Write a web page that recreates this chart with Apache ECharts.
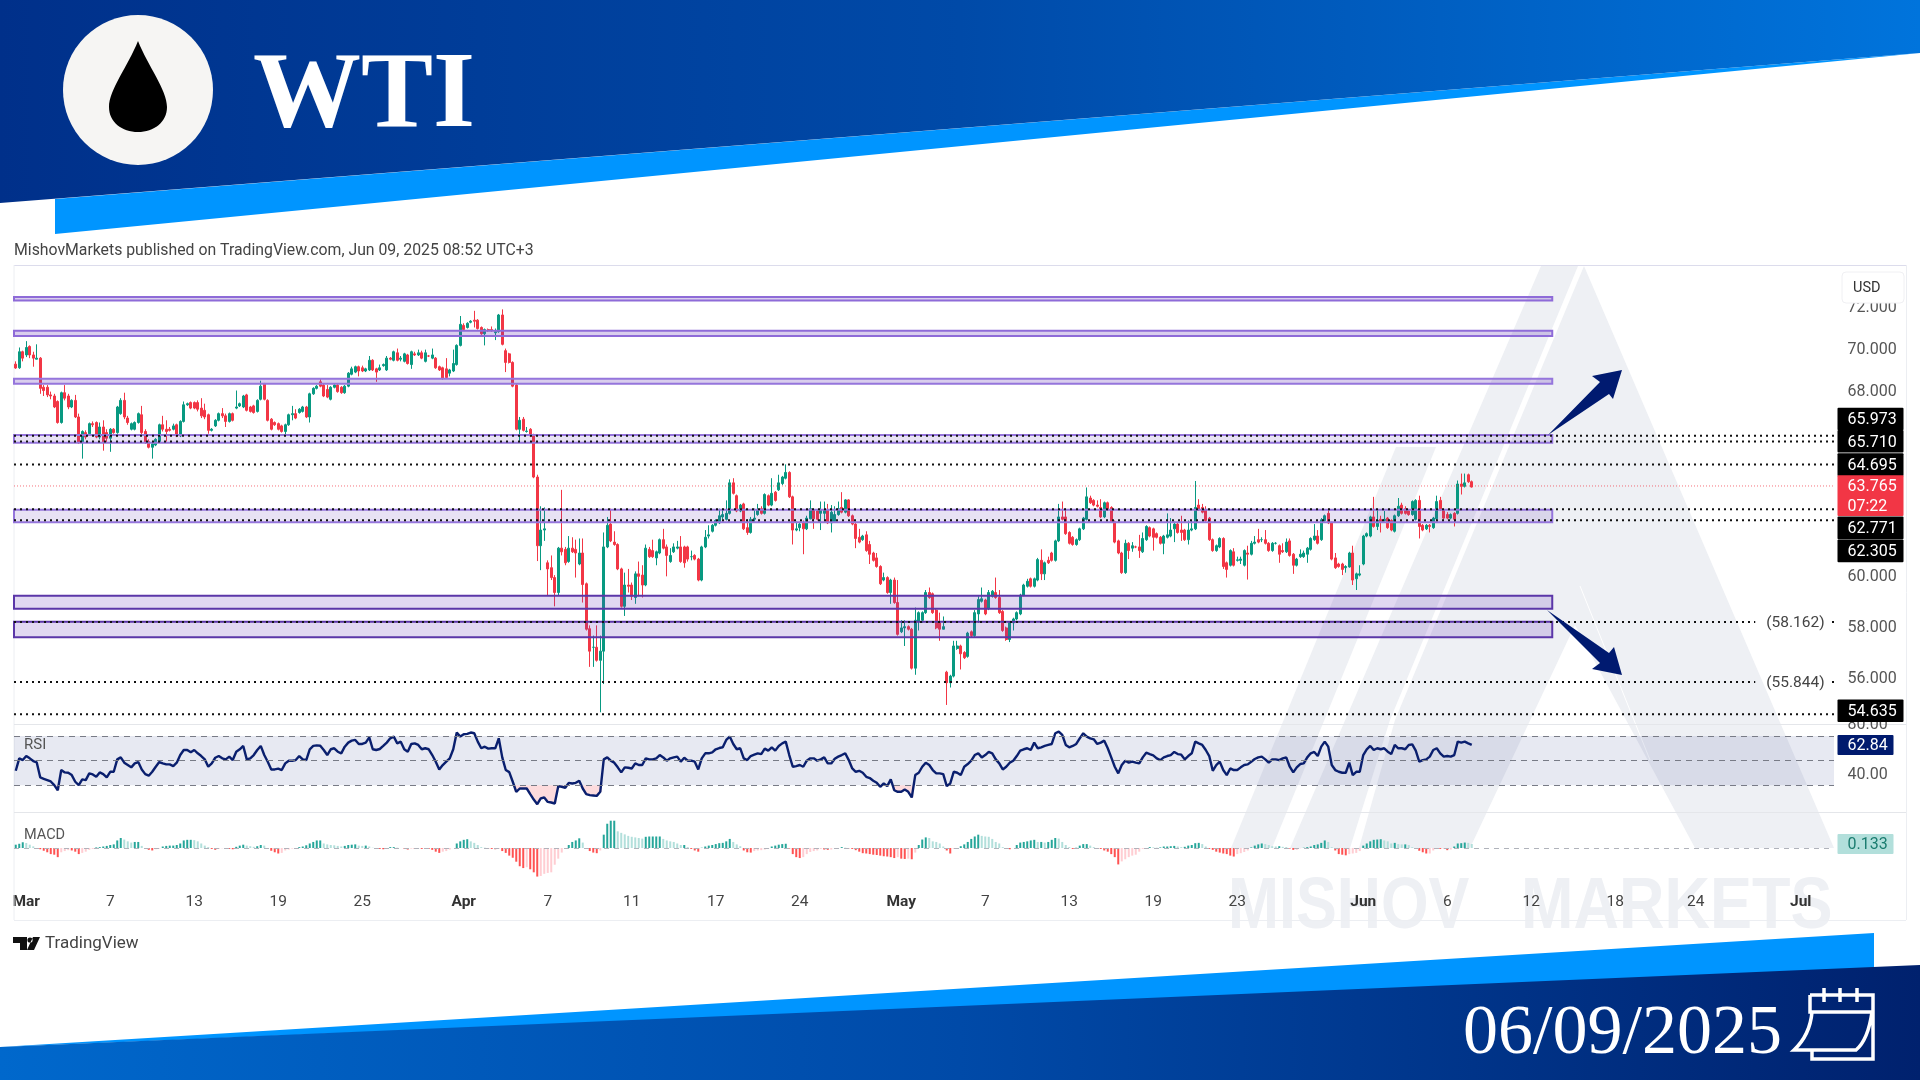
<!DOCTYPE html>
<html>
<head>
<meta charset="utf-8">
<title>WTI</title>
<script src="https://cdn.jsdelivr.net/npm/echarts@6/dist/echarts.min.js"></script>
<style>
  html, body { margin: 0; padding: 0; background: #fff; }
  #chart { width: 1920px; height: 1080px; }
</style>
</head>
<body>
<div id="chart"></div>
<script>
// [open, close, low, high]
const priceBars = [
[69.27,69.09,69.05,69.4],[69.1,69.85,69.05,70.05],[69.85,69.55,69.4,69.9],[69.7,70.05,69.6,70.35],[70.1,69.7,69.55,70.15],[69.7,69.55,69.15,69.85],[69.5,69.55,69.5,70.2],[69.55,68.15,67.9,69.6],
[68.2,68.05,67.8,68.3],[68.2,67.85,67.75,68.3],[67.85,67.8,67.65,68],[67.8,67.3,67.25,67.9],[67.55,66.6,66.55,67.6],[66.6,67.95,66.55,68],[67.95,67.7,67.6,68.3],[67.8,67.3,67.2,67.9],
[67.3,67.6,67.25,67.65],[67.6,66.85,66.8,67.85],[66.85,65.7,65.65,67],[65.7,66.2,65,66.25],[66.15,65.95,65.85,66.25],[66.1,66.55,66,66.6],[66.55,66.5,66.4,66.65],[66.6,65.95,65.9,66.65],
[65.95,66.4,65.85,66.6],[66.4,65.7,65.35,66.7],[66.15,65.9,65.7,66.3],[65.9,66.3,65.3,66.35],[66.3,66.15,66.1,66.35],[66.15,67.3,66.1,67.35],[67,67.6,66.95,67.7],[67.6,66.85,66.75,67.95],
[66.8,66.6,66.5,66.9],[66.3,66.55,66.25,66.6],[66.3,66.6,66.25,66.65],[66.6,67,66.55,67.05],[66.95,66.15,66.05,67.35],[66.2,65.7,65.65,66.3],[65.75,65.5,65.45,65.85],[65.5,65.65,65,65.75],
[65.6,65.85,65.55,65.9],[65.75,66.5,65.7,66.55],[66.5,66.3,66.2,66.9],[66.3,66.2,65.75,66.7],[66.3,66.25,66.2,66.4],[66.3,66.45,66.25,66.55],[66.5,66,65.95,66.55],[66,66.65,65.95,66.7],
[66.65,67.4,66.6,67.55],[67.4,67.45,67.35,67.5],[67.5,67.25,67.2,67.55],[67.5,67.25,67.2,67.55],[67.5,67.2,67.1,67.6],[67.25,66.9,66.8,67.7],[67.15,66.85,66.75,67.45],[66.95,66.25,66.1,67],
[66.25,66.3,66.2,66.35],[66.45,66.7,66.4,66.75],[66.7,67,66.65,67.05],[67,66.9,66.8,67.25],[66.9,66.65,66.4,67],[66.65,67,66.6,67.05],[67,66.7,66.65,67.05],[67.25,67.3,67.2,68.05],
[67.35,67.45,67.3,67.5],[67.3,67.8,67.25,67.85],[67.85,67.15,67.1,67.9],[67.3,67.1,67.05,67.35],[67.35,67.05,67,67.4],[67.1,67.6,67.05,67.65],[67.65,68.25,67.6,68.5],[68.35,67.65,67.6,68.4],
[67.6,66.7,66.65,67.65],[66.75,66.3,66.25,66.8],[66.6,66.5,66.45,66.65],[66.55,66.3,66.25,66.6],[66.45,66.2,66.15,66.5],[66.2,66.5,66,66.55],[66.5,66.95,66.45,67],[66.95,67,66.7,67.35],
[67,66.8,66.75,67.2],[67.05,67.2,67,67.25],[67.1,67.3,67.05,67.35],[67.3,66.85,66.8,67.35],[66.85,67.9,66.6,67.95],[67.9,68.15,67.85,68.2],[68.15,68.25,68.1,68.3],[68.45,68.25,68.2,68.6],
[68.3,67.8,67.75,68.35],[68.1,67.75,67.7,68.3],[67.65,68.2,67.6,68.25],[68.2,68.3,68.15,68.35],[68.3,68,67.95,68.35],[68.2,67.95,67.9,68.25],[67.95,68.25,67.9,68.3],[68.25,68.85,68.2,68.9],
[68.8,69.05,68.75,69.15],[68.9,69.15,68.85,69.2],[69.15,68.95,68.7,69.2],[69.1,68.95,68.9,69.2],[68.95,69.05,68.9,69.1],[69,69.45,68.95,69.65],[69.45,69,68.95,69.5],[69.05,68.9,68.45,69.1],
[69,69.1,68.95,69.25],[69.2,69.25,69.15,69.3],[69,69.55,68.95,69.65],[69.55,69.5,69.45,69.6],[69.45,69.85,69.4,69.9],[69.8,69.45,69.4,70],[69.5,69.55,69.4,69.65],[69.4,69.75,69.35,69.8],
[69.7,69.3,69.25,69.75],[69.25,69.85,69.05,69.9],[69.75,69.7,69.65,69.85],[69.7,69.8,69.65,69.95],[69.8,69.55,69.5,69.9],[69.4,69.8,69.35,69.95],[69.65,69.65,69.6,69.7],[69.55,69.7,69.5,70],
[69.55,69.1,69.05,69.6],[69.15,69,68.95,69.2],[69.1,68.6,68.55,69.15],[69.05,68.65,68.6,69.55],[68.85,69,68.7,69.05],[68.95,69.3,68.9,69.95],[69.25,70.15,69.2,70.2],[70.15,71.15,70.1,71.55],
[71.1,70.9,70.85,71.2],[71,71.2,70.95,71.25],[71.25,71.3,71.2,71.35],[71.35,71.3,71,71.8],[71.35,70.95,70.9,71.4],[71,70.7,70.65,71.05],[70.7,70.9,70.15,70.95],[70.9,70.85,70.8,70.95],
[70.9,70.85,70.8,71.05],[70.75,70.8,70.4,70.95],[70.8,71.6,70.75,71.65],[71.6,70.2,70.15,71.87],[69.9,69.35,68.9,70],[69.75,69.35,69.3,69.8],[69.35,68.25,68.2,69.4],[68.3,66.3,66.25,68.35],
[66.3,66.7,65.75,66.85],[66.75,66.25,66.2,66.85],[66.2,66.22,66.15,66.4],[66.3,66,65.95,66.35],[66.05,64.2,64.15,66.1],[64.2,61.3,60.67,64.3],[61.3,61.95,60.3,62.95],[61.95,62,61.5,62.9],
[60.6,60.35,59.3,60.7],[60.4,60,59.9,60.9],[60,59.4,58.85,60.1],[59.4,61.2,59.3,61.25],[61.2,61.05,60.9,63.65],[61.15,60.6,60.5,61.25],[60.65,61.2,60.6,61.7],[61.2,61.05,61,61.65],
[61.15,61,60,61.55],[60.55,61,60.5,61.6],[61,59.72,59,61.6],[59.75,57.95,57.9,59.8],[57.97,57.1,56.5,58.1],[57.25,57.25,56.5,57.7],[57.25,56.75,56.7,58.1],[56.75,57.1,54.8,57.7],
[57.1,61.25,55.85,61.85],[61.25,62.15,61.2,62.5],[62.2,61.5,61.45,62.85],[61.45,61.35,61.3,61.9],[61.35,60.35,60.3,61.4],[60.35,58.85,58.8,60.4],[58.85,59.7,58.47,60.2],[59.7,59.65,59.4,60.35],
[59.7,59.25,59.1,59.8],[59.2,60.15,58.95,60.25],[60.15,60.05,59.25,60.65],[60.1,59.7,59.2,60.5],[59.7,61.2,59.65,61.35],[61.15,60.85,60.8,61.25],[61.1,60.85,60.8,61.55],[60.8,61.05,60.5,61.1],
[61,61.55,60.95,61.6],[61.55,61.2,61.15,62],[61.25,60.9,60.05,61.35],[60.65,60.9,60.6,61.2],[61.05,61.25,61,61.4],[61.2,61.25,61.15,61.5],[61.25,60.65,60.6,61.7],[61.25,60.6,60.4,61.3],
[61.25,60.75,60.65,61.3],[60.85,60.85,60.7,61.1],[60.9,60.75,60.7,60.95],[60.75,59.9,59.85,60.8],[59.9,61.25,59.85,61.3],[61.25,61.65,61.2,61.95],[61.7,61.75,61.6,62.15],[61.9,62.15,61.85,62.2],
[62.15,62.35,62.1,62.4],[62.25,62.55,62.2,62.85],[62.5,62.6,62.4,62.85],[62.4,62.65,62.35,63.2],[62.65,63.95,62.6,64.1],[63.95,63.5,63.45,64.15],[63.4,62.75,62.7,63.45],[62.75,63,62.7,63.05],
[63.05,62,61.95,63.1],[62.05,61.85,61.75,62.4],[61.85,62.4,61.8,62.5],[62.4,62.45,62.3,62.85],[62.6,62.8,62.55,63.05],[62.85,62.65,62.6,62.95],[62.65,63.45,62.6,63.5],[63.4,63,62.95,63.45],
[63,63.5,62.95,64.15],[63.55,63.2,63.15,63.6],[63.65,63.95,63.6,64.3],[63.92,64.2,63.85,64.25],[64.15,64.4,64.1,64.75],[64.4,63.35,63.3,64.45],[63.35,61.95,61.35,63.4],[61.95,62,61.9,62.3],
[62.05,62.2,61.9,62.25],[62.25,62,60.95,62.35],[62,62.45,61.95,62.55],[62.42,62.85,62.4,63.2],[62.8,62.42,62,62.85],[62.75,62.4,62.35,62.8],[62.65,62.8,61.95,63.15],[62.65,62.8,62.35,63.15],
[62.8,62.25,62.2,63.05],[62.25,62.7,61.85,63],[62.3,62.6,62.25,62.95],[62.6,62.85,62.55,63.15],[62.9,62.7,62.65,63.55],[62.7,63.22,62.65,63.25],[63.22,62.55,62.5,63.25],[62.55,62.2,62.15,62.6],
[62.2,61.6,61.2,62.25],[61.65,61.45,61.4,62],[61.55,61.7,61.5,61.75],[61.75,61.1,61.05,61.9],[61.35,60.95,60.55,61.5],[61,60.7,60.65,61.05],[60.8,60.45,60.4,61],[60.45,59.75,59.7,60.5],
[59.9,60,59.85,60.2],[60,59.4,59.35,60.05],[59.4,59.9,58.95,59.95],[59.9,59,58.95,60],[59,57.75,57.7,59.9],[57.85,58,57.8,58.3],[58,58.05,57.3,58.3],[58.05,57.95,57.9,58.1],
[57.95,56.45,56.4,58],[56.45,58.3,56.2,58.8],[58.25,58.6,57.9,58.65],[58.3,58.6,58.2,58.65],[58.6,59.4,58.55,59.5],[59.4,59.2,59.15,59.6],[59.35,58.6,58.55,59.4],[58.7,58,57.95,58.75],
[58.2,57.95,57.5,58.6],[57.95,58.05,57.95,58.45],[56.3,55.9,55.07,56.35],[55.9,56.15,55.72,56.2],[56.15,57.3,56.1,57.5],[57.2,57.3,57.15,57.5],[57.3,57,56.4,57.35],[57.05,56.85,56.8,57.1],
[56.9,57.8,56.85,57.85],[57.85,57.7,57.65,57.9],[57.7,58.6,57.65,58.7],[58.55,59.12,58.2,59.25],[59.05,59.15,59,59.6],[59.1,58.55,58.5,59.15],[58.75,59.4,58.7,59.5],[59.25,59.45,59.2,59.5],
[59.4,59.2,59.15,60],[59.2,58.6,58.55,59.5],[58.65,57.9,57.85,58.7],[58,57.55,57.5,58.05],[57.55,58.2,57.45,58.25],[58.2,58.35,57.9,58.4],[58.35,58.6,58.3,58.65],[58.55,59.3,58.5,59.35],
[59.3,59.7,59.25,59.75],[59.65,59.85,59.6,59.95],[59.95,59.65,59.6,60],[59.65,59.95,59.6,60],[59.9,60.73,59.85,60.8],[60.7,60.15,59.9,61.15],[60.15,60.6,59.9,60.65],[60.7,60.6,60.55,60.85],
[61,60.7,60.65,61.05],[60.7,61.5,60.65,61.55],[61.5,62.5,61.45,63.05],[62.5,62.4,62.35,63.15],[62.5,61.8,61.75,62.85],[61.85,61.4,61.35,61.9],[61.65,61.35,61.3,61.7],[61.35,61.55,61.3,61.6],
[61.55,62,61.5,62.05],[62,62.45,61.95,62.5],[62.4,63.35,62.35,63.75],[63.3,63.1,63.05,63.4],[63.2,63,62.95,63.25],[63,62.95,62.9,63.2],[62.9,62.5,62.45,63.25],[62.5,63.1,62.45,63.15],
[63.1,62.8,62.75,63.15],[62.9,62.3,62.25,62.95],[62.3,61.45,61.4,62.35],[61.5,61,60.95,61.55],[61,60.2,60.15,61.05],[60.2,61.4,60.15,61.55],[61.4,61.1,60.75,61.45],[61.2,61.3,61.05,61.45],
[61.25,61.25,61.2,61.3],[61.25,61.1,60.8,61.75],[61.05,61.6,61,61.85],[61.55,62.1,61.5,62.15],[62.05,61.7,61.65,62.1],[62,61.65,61.1,62.05],[61.8,61.65,61.6,61.85],[61.65,61.4,61.35,61.7],
[61.4,61.7,60.95,61.75],[61.65,61.75,61.6,62.65],[61.7,61.95,61.65,62.45],[62,62.2,61.45,62.3],[62.2,61.85,61.8,62.25],[61.95,61.85,61.5,62.55],[61.95,61.55,61.5,62],[61.55,61.95,61.35,62.35],
[61.95,62,61.9,62.35],[62,62.9,61.95,64.03],[63,62.8,62.75,63.25],[62.9,62.7,62.65,63.05],[62.8,62.35,62.3,62.95],[62.45,61.55,61.5,62.5],[61.55,61.1,61.05,61.6],[61.1,61.3,61.05,61.35],
[61.25,61.6,61.2,61.65],[61.6,60.45,60.35,61.65],[60.6,60.33,60,60.65],[60.5,61.1,60.45,61.15],[61.05,60.5,60.45,61.2],[60.7,60.72,60.65,60.85],[60.7,60.75,60.55,60.85],[60.5,61.1,60.45,61.15],
[61,60.95,59.92,61.3],[60.95,61.4,60.9,61.5],[61.4,61.45,61.35,61.7],[61.55,61.45,61.4,62],[61.55,61.55,61.45,61.65],[61.55,61.4,61.35,61.95],[61.4,61.1,61.05,61.45],[61.1,61.4,61.05,61.45],
[61.4,61.4,61.35,61.45],[61.3,60.95,60.6,61.35],[61.1,61.05,61,61.4],[61.05,61.45,61,61.6],[61.5,60.9,60.85,61.6],[60.95,60.5,60.15,61],[60.5,60.75,60.45,60.8],[60.85,60.95,60.8,61.15],
[60.85,61,60.8,61.1],[60.95,61.2,60.6,61.25],[61.15,61.6,61.1,61.65],[61.55,61.7,61.5,62.2],[61.7,61.4,61.35,61.95],[61.55,62.38,61.5,62.45],[62.35,62.55,62.3,62.6],[62.65,62.25,62.2,62.85],
[62.25,60.75,60.7,62.3],[60.8,60.4,60.35,61],[60.55,60.45,60.4,60.6],[60.55,60.33,60.1,60.6],[60.4,60.45,60.2,60.5],[60.43,61,60.4,61.05],[61,59.9,59.7,61.3],[59.95,60.15,59.5,60.2],
[60.1,60.15,60.05,60.5],[60.55,61.7,60.5,61.75],[61.7,61.8,61.65,61.85],[61.7,62.5,61.65,62.55],[62.5,62.1,62.05,63.35],[62.1,62.35,61.95,62.8],[62.4,62.3,61.85,62.55],[62.35,62.4,62.3,62.75],
[62.45,62.05,62,62.5],[62.35,61.95,61.9,62.4],[61.9,62.55,61.85,62.6],[62.55,62.95,62.5,63.3],[63,62.65,62.6,63.1],[62.85,62.65,62.6,62.95],[62.75,62.6,62.55,62.8],[62.6,63.15,62.55,63.2],
[62.4,63.2,62.35,63.25],[63.2,62.1,61.6,63.4],[62.15,61.95,61.9,62.2],[62,62.15,61.95,62.2],[62.15,62.1,61.85,62.2],[62.05,62.45,62,62.5],[62.42,63.15,62.35,63.4],[63.2,62.8,62.75,63.35],
[62.8,62.45,62.4,62.85],[62.6,62.45,62.4,62.7],[62.45,62.6,62.4,62.65],[62.65,62.4,62.1,62.7],[62.65,63.9,62.6,64.05],[63.9,63.8,63.45,64.35],[63.8,63.95,63.75,64.35],[64.3,64,63.95,64.35],
[64,63.77,63.75,64.05]
];

const rsiValues = [
41.8,51.9,50.5,53.8,51.9,49.7,48.6,36.4,35.3,34.2,33.1,30.1,26,42.4,40.5,40.2,38.3,32.9,30.1,34.8,34.2,39.7,38.8,36.9,40.5,39.1,36.4,41,41,51.1,
52.7,48.4,46.5,44.6,47.8,48.9,42.9,39.1,37.8,41,45.1,48.9,47.8,47,47,45.6,48.4,54.6,58.7,58.7,56.8,58.7,56,53.8,51.1,45.1,47.8,52.4,53.8,51.9,
51.1,53.3,50.5,57.3,59.3,62,51.1,51.9,54.6,58.7,62,54.6,49.2,42.9,42.9,43.5,42.4,47.8,50,50,50.5,53.8,51.1,50.5,59.3,62,62.5,62.2,58.7,54.6,
59.3,60.1,57.3,56,61.4,64.7,66.3,66.9,63.6,63.6,64.7,69,59.3,58.7,59.5,62,64.7,68.2,69.6,64.1,65.5,59.3,57.3,63.6,64.1,62.8,59.3,60.1,59.3,54.6,
49.2,42.9,46.5,49.2,51.9,59.3,72.9,69.6,71.5,71.8,72.9,72.3,65.5,60.1,61.4,59.8,60.1,60.1,68.2,52.7,42.4,40.7,32.9,24.7,27.4,27.4,27.4,22.8,18.4,14.6,
19.3,20.1,16.5,16,15.2,29.3,28.8,28,32,31.5,32,33.7,27.4,22.8,22,21.7,21.4,24.7,51.1,52.7,50,48.4,44.6,40.5,44.6,44.3,43.7,47.8,46.5,46.5,
51.9,51.1,51.1,51.9,54.6,52.7,50,51.9,52.7,53.3,49.2,52.4,50,50,49.2,42.9,51.9,56,56,56.8,59.3,60.3,60.9,66.9,69.6,63.6,59.3,60.1,51.9,50.5,
53.8,54.9,56,55.4,59.8,58.2,60.9,58.2,62,64.1,65.5,54.6,45.1,45.6,46.5,45.1,50,51.9,51.9,50,51.1,52.7,47.8,47.8,51.6,53.3,54.6,56,50.5,43.7,
41,41.8,40.2,36.9,35.9,33.7,32,28.8,31.5,29.3,34.8,26,24.7,24.7,26.6,24.7,20.1,38.3,40.2,45.1,48.4,46.5,42.4,39.7,39.7,39.1,29.3,31.5,41,40.2,
38.3,45.1,47.3,50,54.6,56,52.7,54.6,57.1,56,51.1,47.8,42.9,45.1,48.4,50,53.8,58.2,59.3,60.1,58.7,64.7,60.1,60.9,62,62.8,63.6,72.3,73.7,71,
62.8,60.9,62,63.6,68.2,72.3,69.6,68.2,67.4,63.6,64.7,66.3,60.1,52.7,45.1,39.7,46.5,50,48.4,49.2,48.4,47.8,52.7,56.5,55.4,54.4,51.9,50.5,52.7,53.8,
54.6,57.1,55.4,54.9,51.1,53.8,56,65.5,64.1,62.8,58.7,53.8,41.8,46.5,49.2,42.4,38.3,43.7,42.4,42.4,44.6,46.5,47,49.2,51.4,52.7,53.3,51.1,48.4,51.1,
51.1,50.5,51.9,52.7,45.1,40.5,44.6,47.3,47.8,52.7,56,57.1,53.8,61.4,65.5,61.4,46.5,42.4,41,40.2,40.2,48.4,38.3,41,41,54.6,59.3,62,58.7,60.1,
59.3,60.1,57.3,55.4,62.8,60.1,60.1,59.3,62.8,63.3,58.2,49.2,50.5,51.1,53.3,58.7,60.1,56,53.3,53.8,53.3,54.6,65.5,64.7,65.5,64.1,62.84
];

const macdValues = [
.11,.14,.19,.165,.11,.055,-.01,-.04,-.09,-.14,-.2,-.22,-.3,-.14,-.1,-.07,-.08,-.12,-.2,-.16,-.12,-.06,-.03,.02,.03,.05,.07,.1,.12,.25,
.33,.28,.22,.18,.2,.2,.07,-.02,-.06,-.08,-.04,-.02,.05,.07,.08,.08,.1,.15,.25,.27,.27,.26,.22,.15,.08,.03,-.03,-.06,-.03,-.01,
-.02,-.03,-.04,.04,.08,.11,.08,.06,.04,.06,.1,.08,-.02,-.09,-.14,-.18,-.16,-.08,-.05,-.02,0,.03,.05,.09,.15,.2,.25,.25,.15,.12,
.1,.09,.07,.05,.07,.1,.11,.12,.08,.07,.08,.05,.01,-.02,-.03,-.04,-.01,.03,.03,.01,0,-.02,-.05,-.02,-.03,-.02,-.03,-.02,-.03,-.06,
-.12,-.16,-.12,-.1,-.05,0,.15,.22,.27,.29,.22,.17,.1,.03,.01,-.02,-.03,-.04,-.03,-.1,-.16,-.25,-.32,-.45,-.6,-.66,-.63,-.7,-.8,-.94,
-.92,-.85,-.82,-.8,-.55,-.35,-.15,-.03,.1,.2,.25,.32,.18,0,-.1,-.15,-.17,-.08,.44,.8,.9,.9,.55,.5,.45,.4,.37,.35,.33,.31,
.37,.38,.38,.38,.38,.3,.25,.22,.2,.15,.1,.1,.03,-.03,-.08,-.12,.01,.05,.08,.1,.13,.16,.17,.22,.3,.2,.12,.06,-.08,-.14,
-.15,-.1,-.08,-.07,-.05,-.02,.05,.08,.11,.13,.14,-.02,-.2,-.3,-.33,-.3,-.2,-.13,-.1,-.08,-.03,-.05,-.06,-.05,-.01,0,.03,.01,-.01,-.03,
-.07,-.12,-.17,-.18,-.2,-.22,-.23,-.25,-.27,-.28,-.3,-.33,-.3,-.35,-.36,-.35,-.37,-.15,.1,.28,.35,.33,.22,.2,.15,.05,-.08,-.18,-.03,0,
.06,.12,.2,.3,.38,.44,.4,.38,.37,.3,.2,.15,.03,-.03,-.04,0,.1,.18,.2,.22,.25,.27,.2,.2,.18,.2,.27,.33,.31,.2,
.1,.03,-.03,.01,.08,.13,.13,.08,.03,0,-.03,-.08,-.12,-.2,-.3,-.54,-.44,-.37,-.3,-.25,-.22,-.12,-.03,0,.03,.02,.01,.02,.05,.05,
.06,.07,.05,.03,.04,.08,.1,.16,.17,.13,.05,-.03,-.06,-.12,-.15,-.18,-.2,-.25,-.28,-.2,-.17,-.13,-.08,.02,.08,.12,.15,.13,.1,.06,
.05,.06,.04,.03,-.02,-.06,-.06,-.01,.01,.03,.05,.1,.12,.17,.25,.2,.03,-.08,-.2,-.22,-.24,-.2,-.18,-.16,-.1,.08,.15,.22,.27,.28,
.29,.25,.22,.15,.17,.13,.12,.12,.1,.03,-.03,-.09,-.14,-.18,-.18,-.08,-.02,-.03,-.03,-.07,-.05,.05,.15,.16,.18,.17,.133
];

const slotCount = 520;
const dateTickIndex = [3, 27, 51, 75, 99, 128, 152, 176, 200, 224, 253, 277, 301, 325, 349, 385, 409, 433, 457, 480, 510];
const dateTickText = ["Mar", "7", "13", "19", "25", "Apr", "7", "11", "17", "24", "May", "7", "13", "19", "23", "Jun", "6", "12", "18", "24", "Jul"];
const monthNames = ["Mar", "Apr", "May", "Jun", "Jul"];

const priceTicks = [56, 58, 60, 68, 70, 72];
const rsiTicks = [40, 80];

const zoneTop = [72.47, 70.85, 68.59, 66.04, 62.8, 59.27, 58.24];
const zoneBottom = [72.3, 70.6, 68.36, 65.7, 62.28, 58.75, 57.64];
const zoneBorder = ["#8e6bd8", "#8e6bd8", "#9575dc", "#9575dc", "#9575dc", "#5b36a8", "#5b36a8"];
const zoneFill = [0.25, 0.25, 0.25, 0.15, 0.15, 0.2, 0.2];

const levelValues = [65.973, 65.71, 64.695, 62.771, 62.305, 54.635];
const levelNudge = [-16.7, -0.3, 0, 18.7, 30.7, -3.6];
const forecastValues = [58.162, 55.844];
const lastPrice = 63.765;
const lastRsi = 62.84;
const lastMacd = 0.133;

const categories = Array.from({ length: slotCount }, (_, i) => {
  const k = dateTickIndex.indexOf(i);
  return k < 0 ? "" : dateTickText[k];
});

const macdColor = (v, i) => {
  const prev = i > 0 ? macdValues[i - 1] : 0;
  if (v >= 0) return v >= prev ? "#26a69a" : "#b2dfdb";
  return v < prev ? "#ff5252" : "#ffcdd2";
};

const FONT = "Roboto, 'Liberation Sans', sans-serif";
const zoneRight = 439;
const forecastRight = 497;
const tagLeft = 1837.5;
const tickTextX = 1847.5;
const textDrop = 1.5;

const textShape = (x, y, text, fill, size, weight) => ({
  type: "text",
  style: { x, y, text, fill, font: `${weight || "normal"} ${size}px ${FONT}`, textVerticalAlign: "middle" },
});

// price / indicator boxes right of the plot, placed from the value through the axis
const tagSeries = (paneIndex, values, texts, opts) => ({
  type: "custom",
  xAxisIndex: paneIndex,
  yAxisIndex: paneIndex,
  z: 6,
  clip: false,
  silent: true,
  data: values.map((v) => [0, v]),
  renderItem: (params, api) => {
    const i = params.dataIndex;
    const y = api.coord([0, api.value(1)])[1] + (opts.nudge ? opts.nudge[i] : 0);
    return {
      type: "group",
      children: [
        {
          type: "rect",
          shape: { x: tagLeft, y: y - opts.height / 2, width: opts.width, height: opts.height, r: 1 },
          style: { fill: opts.bg },
        },
        {
          type: "text",
          style: {
            x: tickTextX,
            y: y + textDrop,
            text: texts[i],
            fill: opts.fg,
            font: `16px ${FONT}`,
            textVerticalAlign: "middle",
            lineHeight: 20,
          },
        },
      ],
    };
  },
});

const tickSeries = (paneIndex, values, digits) => ({
  type: "custom",
  xAxisIndex: paneIndex,
  yAxisIndex: paneIndex,
  z: 3,
  clip: false,
  silent: true,
  data: values.map((v) => [0, v]),
  renderItem: (params, api) =>
    textShape(tickTextX, api.coord([0, api.value(1)])[1] + textDrop, api.value(1).toFixed(digits), "#555", 16),
});

const wmColor = "#eef0f4";
const polygon = (points, fill, z) => ({ type: "polygon", silent: true, z, shape: { points }, style: { fill } });
const line = (x1, y1, x2, y2, stroke, z) => ({
  type: "line", silent: true, z: z || 1, shape: { x1, y1, x2, y2 }, style: { stroke, lineWidth: 1 },
});
const label = (x, y, text, size, fill, extra) => ({
  type: "text",
  silent: true,
  z: 8,
  x,
  y,
  style: Object.assign({ text, fill, font: `${size}px ${FONT}`, textVerticalAlign: "middle" }, extra || {}),
});

const frameColor = "#eceef2";
const grad = (stops) =>
  new echarts.graphic.LinearGradient(0, 0, 1, 0, stops.map((c, i) => ({ offset: i / (stops.length - 1), color: c })));

const decorations = [
  // watermark
  polygon([[1396, 447], [1436, 447], [1272, 848], [1231, 848]], wmColor, 0),
  polygon([[1541, 266], [1578, 266], [1390, 720], [1350, 848], [1290, 848]], wmColor, 0),
  polygon([[1584, 266], [1834, 848], [1695, 848], [1575, 625], [1470, 848], [1359, 848], [1395, 720]], wmColor, 0),
  line(1580, 586, 1650, 760, "#fff", 0),
  {
    type: "text", silent: true, z: 0, x: 1228, y: 908, scaleX: 0.85,
    style: { text: "MISHOV", fill: wmColor, font: "bold 72px 'Liberation Sans'", textVerticalAlign: "middle" },
  },
  {
    type: "text", silent: true, z: 0, x: 1521, y: 908, scaleX: 0.875,
    style: { text: "MARKETS", fill: wmColor, font: "bold 72px 'Liberation Sans'", textVerticalAlign: "middle" },
  },
  // frame
  line(14, 265.5, 1906, 265.5, "#dcdcec"),
  line(14, 265, 14, 920, frameColor),
  line(1906.5, 265, 1906.5, 920, frameColor),
  line(14, 920.5, 1906, 920.5, frameColor),
  line(14, 724.5, 1906, 724.5, "#e4e6ea"),
  line(14, 812.5, 1906, 812.5, "#e4e6ea"),
  // header
  polygon([[55, 199], [1920, 53], [55, 234]], "#0095ff", 1),
  polygon([[0, 0], [1920, 0], [1920, 53], [0, 203]], grad(["#00308a", "#004aa8", "#0074dc"]), 1),
  { type: "circle", silent: true, z: 2, shape: { cx: 138, cy: 90, r: 75 }, style: { fill: "#f6f5f3" } },
  {
    type: "text", silent: true, z: 3, x: 253, y: 98,
    style: { text: "WTI", fill: "#fff", font: "bold 108px 'Liberation Serif'", textVerticalAlign: "middle" },
  },
  label(14, 251, "MishovMarkets published on TradingView.com, Jun 09, 2025 08:52 UTC+3", 15.8, "#444"),
  // footer
  polygon([[0, 1047], [1874, 933], [1874, 971]], "#0095ff", 1),
  polygon([[0, 1047], [1920, 965], [1920, 1080], [0, 1080]], grad(["#0068cc", "#004aa8", "#00216e"]), 1),
  {
    type: "text", silent: true, z: 3, x: 1463, y: 1035,
    style: { text: "06/09/2025", fill: "#fff", font: "70px 'Liberation Serif'", textVerticalAlign: "middle" },
  },
  label(45, 944, "TradingView", 17, "#444"),
  // USD box
  {
    type: "rect", silent: true, z: 7,
    shape: { x: 1842, y: 272, width: 62, height: 31, r: 4 },
    style: { fill: "#fff", stroke: "#f0f0f3", lineWidth: 1 },
  },
  label(1853, 288, "USD", 14.5, "#333"),
  // arrows
  polygon([[1548, 435], [1600, 382], [1592, 376], [1622, 370], [1613, 399], [1609, 394]], "#001a70", 7),
  polygon([[1547, 610], [1609, 653], [1614, 647], [1622, 675], [1592, 669], [1600, 663]], "#001a70", 7),
  // pane titles
  label(24, 745, "RSI", 15, "#555"),
  label(24, 835, "MACD", 14.5, "#555"),
];

// icons need svg paths, which only the custom series can draw
const iconPaths = [
  { d: "M138 41 C128 66 109 90 109 107 C109 122 122 132 138 132 C154 132 167 122 167 107 C167 90 148 66 138 41 Z", fill: "#000" },
  { d: "M13 937 H27 V950 H20 V943 H13 Z M33 937 H40 L34 950 H27 Z M27.4 940 A2.6 2.6 0 1 0 32.6 940 A2.6 2.6 0 1 0 27.4 940 Z", fill: "#111" },
  {
    d: "M1810 995 H1873 V1059 H1812 V1050 M1810 995 V1012 H1872 M1812 1012 Q1810 1035 1794 1050 H1856 Q1868 1040 1872 1012 M1824 988 V1002 M1840 988 V1002 M1857 988 V1002",
    fill: "none",
    stroke: "#fff",
    lineWidth: 3.5,
  },
];

const chart = echarts.init(document.querySelector("#chart"));

const plainX = (gridIndex) => ({
  type: "category",
  gridIndex,
  data: categories,
  show: false,
});

chart.setOption({
  animation: false,
  backgroundColor: "#fff",
  graphic: { elements: decorations },
  grid: [
    { left: 14, width: 1820, top: 266, height: 458.5 },
    { left: 14, width: 1820, top: 724.5, height: 88 },
    { left: 14, width: 1820, top: 812.5, height: 66.5 },
  ],
  xAxis: [
    plainX(0),
    plainX(1),
    {
      type: "category",
      gridIndex: 2,
      data: categories,
      axisLine: { show: false },
      axisTick: { show: false },
      splitLine: { show: false },
      axisLabel: {
        interval: (i, v) => v !== "",
        margin: 15,
        hideOverlap: false,
        fontFamily: "Roboto",
        fontSize: 15.5,
        color: "#444",
        formatter: (v) => (monthNames.includes(v) ? `{m|${v}}` : v),
        rich: { m: { fontFamily: "Roboto", fontSize: 15.5, fontWeight: "bold", color: "#333" } },
      },
    },
  ],
  yAxis: [
    // price levels and tick labels
    { type: "log", logBase: Math.E, gridIndex: 0, min: 54.26, max: 74, show: false },
    { type: "value", gridIndex: 1, min: 7.89, max: 79.43, show: false },
    { type: "value", gridIndex: 2, min: -1.02, max: 1.17, show: false },
    // candles and zones were read against this slightly different fit of the same pane
    { type: "log", logBase: Math.E, gridIndex: 0, min: 54.35, max: 74, show: false },
  ],
  series: [
    {
      type: "candlestick",
      xAxisIndex: 0,
      yAxisIndex: 3,
      z: 3,
      barWidth: 2.5,
      data: priceBars,
      itemStyle: {
        color: "#089981",
        color0: "#f23645",
        borderColor: "#089981",
        borderColor0: "#f23645",
        borderWidth: 1,
      },
    },
    {
      // support / resistance zones
      type: "custom",
      xAxisIndex: 0,
      yAxisIndex: 3,
      z: 4,
      silent: true,
      data: zoneTop.map((v, i) => [0, v, zoneBottom[i]]),
      renderItem: (params, api) => {
        const i = params.dataIndex;
        const top = api.coord([0, api.value(1)])[1];
        const bottom = api.coord([0, api.value(2)])[1];
        const right = api.coord([zoneRight, api.value(1)])[0];
        return {
          type: "rect",
          shape: { x: params.coordSys.x, y: top, width: right - params.coordSys.x, height: bottom - top },
          style: { fill: `rgba(103,58,183,${zoneFill[i]})`, stroke: zoneBorder[i], lineWidth: 2 },
        };
      },
    },
    {
      // dotted price levels
      type: "custom",
      xAxisIndex: 0,
      yAxisIndex: 0,
      z: 5,
      clip: false,
      silent: true,
      data: levelValues.map((v) => [0, v]),
      renderItem: (params, api) => {
        const y = api.coord([0, api.value(1)])[1];
        return {
          type: "line",
          shape: { x1: params.coordSys.x, y1: y, x2: params.coordSys.x + params.coordSys.width, y2: y },
          style: { stroke: "#111", lineWidth: 2, lineDash: [2, 4] },
        };
      },
    },
    {
      // fib style levels with their bracket text
      type: "custom",
      xAxisIndex: 0,
      yAxisIndex: 0,
      z: 5,
      clip: false,
      silent: true,
      data: forecastValues.map((v) => [0, v]),
      renderItem: (params, api) => {
        const v = api.value(1);
        const y = api.coord([0, v])[1];
        const right = api.coord([forecastRight, v])[0];
        return {
          type: "group",
          children: [
            {
              type: "line",
              shape: { x1: params.coordSys.x, y1: y, x2: right, y2: y },
              style: { stroke: "#111", lineWidth: 2, lineDash: [2, 4] },
            },
            textShape(right + 11, y + textDrop, `(${v.toFixed(3)})`, "#444", 15.5),
            { type: "rect", shape: { x: 1832, y: y - 1, width: 2, height: 2 }, style: { fill: "#111" } },
          ],
        };
      },
    },
    {
      // last price line
      type: "custom",
      xAxisIndex: 0,
      yAxisIndex: 0,
      z: 5,
      silent: true,
      data: [[0, lastPrice]],
      renderItem: (params, api) => {
        const y = api.coord([0, api.value(1)])[1];
        return {
          type: "line",
          shape: { x1: params.coordSys.x, y1: y, x2: params.coordSys.x + params.coordSys.width, y2: y },
          style: { stroke: "rgba(242,54,69,0.7)", lineWidth: 1, lineDash: [1, 2] },
        };
      },
    },
    tickSeries(0, priceTicks, 3),
    tagSeries(0, levelValues, levelValues.map((v) => v.toFixed(3)), {
      nudge: levelNudge, width: 66, height: 22.6, bg: "#000", fg: "#fff",
    }),
    tagSeries(0, [lastPrice], [`${lastPrice.toFixed(3)}\n07:22`], {
      nudge: [9.6], width: 66, height: 40.7, bg: "#f23645", fg: "#fff",
    }),
    {
      type: "line",
      xAxisIndex: 1,
      yAxisIndex: 1,
      z: 4,
      data: rsiValues,
      symbol: "none",
      silent: true,
      lineStyle: { color: "#0a1f6e", width: 2.4 },
      markArea: {
        silent: true,
        itemStyle: { color: "rgba(60,70,150,0.12)" },
        data: [[{ yAxis: 70 }, { yAxis: 30 }]],
      },
      markLine: {
        silent: true,
        symbol: "none",
        label: { show: false },
        lineStyle: { color: "#787b86", type: [6, 5], width: 1 },
        data: [{ yAxis: 70 }, { yAxis: 50 }, { yAxis: 30 }],
      },
    },
    {
      // oversold fill under the RSI 30 line
      type: "custom",
      xAxisIndex: 1,
      yAxisIndex: 1,
      z: 3,
      silent: true,
      data: rsiValues.map((v, i) => [i, v]),
      renderItem: (params, api) => {
        const v = api.value(1);
        if (v >= 30) return null;
        const x = api.coord([api.value(0), v])[0];
        const y0 = api.coord([0, 30])[1];
        const y1 = api.coord([0, v])[1];
        return {
          type: "rect",
          shape: { x: x - 1.75, y: y0, width: 3.5, height: y1 - y0 },
          style: { fill: "rgba(242,54,69,0.18)" },
        };
      },
    },
    tickSeries(1, rsiTicks, 2),
    tagSeries(1, [lastRsi], [lastRsi.toFixed(2)], { width: 56, height: 20, bg: "#001a6e", fg: "#fff" }),
    {
      type: "bar",
      xAxisIndex: 2,
      yAxisIndex: 2,
      barWidth: 2,
      silent: true,
      data: macdValues.map((v, i) => ({ value: v, itemStyle: { color: macdColor(v, i) } })),
      markLine: {
        silent: true,
        symbol: "none",
        label: { show: false },
        lineStyle: { color: "#b0b3bb", type: [5, 5], width: 1 },
        data: [{ yAxis: 0 }],
      },
    },
    tagSeries(2, [lastMacd], [lastMacd.toFixed(3)], { width: 56, height: 20, bg: "#b2dfdb", fg: "#1b7d70" }),
    {
      type: "custom",
      xAxisIndex: 0,
      yAxisIndex: 0,
      z: 8,
      clip: false,
      silent: true,
      data: [[0, 60]],
      renderItem: () => ({
        type: "group",
        children: iconPaths.map((p) => ({
          type: "path",
          shape: { pathData: p.d },
          style: { fill: p.fill, stroke: p.stroke, lineWidth: p.lineWidth },
        })),
      }),
    },
  ],
});
</script>
</body>
</html>
